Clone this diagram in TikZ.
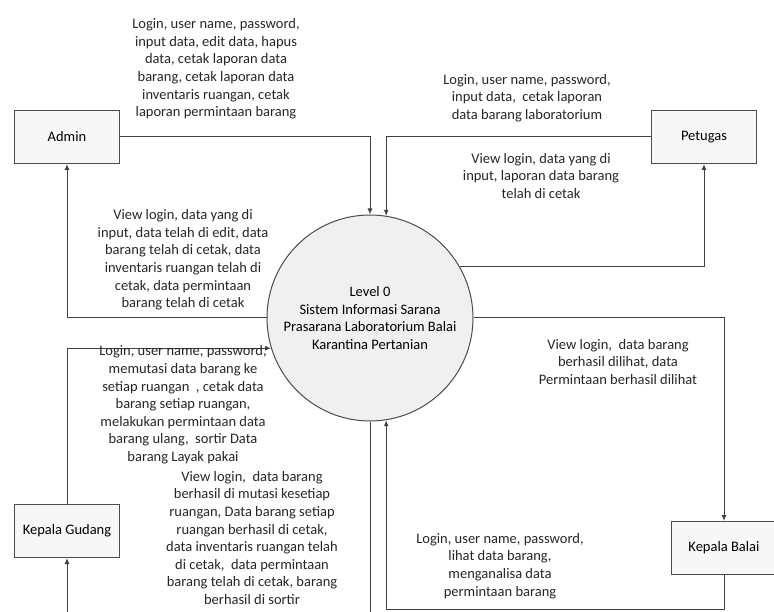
\documentclass[tikz,border=0pt]{standalone}
\usepackage{fontspec}
\setmainfont{Carlito}
\usetikzlibrary{arrows.meta}
\tikzset{
  ent/.style={draw=black!70, line width=1pt, fill=black!3, minimum width=105pt, minimum height=53pt, inner sep=0pt},
  proc/.style={circle, draw=black!70, line width=1pt, fill=black!6, minimum size=206pt, inner sep=0pt, align=center},
  lbl/.style={align=center, text=black!85},
  flow/.style={draw=black!75, line width=1pt, -{Latex[length=6pt,width=5pt]}}
}
\begin{document}
\begin{tikzpicture}[x=1pt, y=-1pt, font=\fontsize{14.5}{17.6}\selectfont]
\useasboundingbox (0,0) rectangle (774,612);
\draw (370,318) node[proc](p0){Level 0\\Sistem Informasi Sarana\\Prasarana Laboratorium Balai\\Karantina Pertanian};
\draw (67,137) node[ent](admin){Admin};
\draw (704,137) node[ent](petugas){Petugas};
\draw (67,531) node[ent](gudang){Kepala Gudang};
\draw (724,548) node[ent](balai){Kepala Balai};
% data flows
\draw[flow] (admin.east) -| (p0.90);
\draw[flow] (petugas.west) -| (p0.81);
\draw[flow] (p0.30) -| (petugas.south);
\draw[flow] (p0.180) -| (admin.south);
\draw[flow] (p0.0) -| (balai.north);
\draw[flow] (balai.south) -- ++(0,34) -| (p0.279);
\draw[flow] (gudang.north) |- (p0.197);
\draw[flow] (p0.270) -- ++(0,220) -| (gudang.south);
% flow labels
\draw (216,69) node[lbl](tAdminIn){Login, user name, password,\\input data, edit data, hapus\\data, cetak laporan data\\barang, cetak laporan data\\inventaris ruangan, cetak\\laporan permintaan barang};
\draw (183,260) node[lbl](tAdminOut){View login, data yang di\\input, data telah di edit, data\\barang telah di cetak, data\\inventaris ruangan telah di\\cetak, data permintaan\\barang telah di cetak};
\draw (527,98) node[lbl](tPetugasIn){Login, user name, password,\\input data,~ cetak laporan\\data barang laboratorium};
\draw (541,176) node[lbl](tPetugasOut){View login, data yang di\\input, laporan data barang\\telah di cetak};
\draw (183,405) node[lbl](tGudangIn){Login, user name, password,\\memutasi data barang ke\\setiap ruangan~ , cetak data\\barang setiap ruangan,\\melakukan permintaan data\\barang ulang,~ sortir Data\\barang Layak pakai};
\draw (252,538) node[lbl](tGudangOut){View login,~ data barang\\berhasil di mutasi kesetiap\\ruangan, Data barang setiap\\ruangan berhasil di cetak,\\data inventaris ruangan telah\\di cetak,~ data permintaan\\barang telah di cetak, barang\\berhasil di sortir};
\draw (618,362) node[lbl](tBalaiOut){View login,~ data barang\\berhasil dilihat, data\\Permintaan berhasil dilihat};
\draw (500,566) node[lbl](tBalaiIn){Login, user name, password,\\lihat data barang,\\menganalisa data\\permintaan barang};
\end{tikzpicture}
\end{document}
